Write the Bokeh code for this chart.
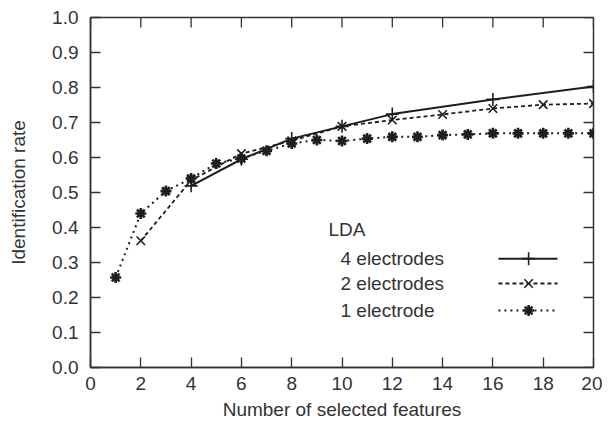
from bokeh.plotting import figure
from bokeh.models import FixedTicker, PrintfTickFormatter, Range1d
from bokeh.core.properties import value
from bokeh.embed import file_html
from bokeh.resources import INLINE

# ---- data ----
x4 = [4, 6, 8, 10, 12, 16, 20]
y4 = [0.519, 0.595, 0.654, 0.689, 0.724, 0.766, 0.803]
x2 = [2, 4, 6, 8, 10, 12, 14, 16, 18, 20]
y2 = [0.362, 0.535, 0.611, 0.648, 0.689, 0.707, 0.723, 0.740, 0.751, 0.754]
x1 = list(range(1, 21))
y1 = [0.257, 0.440, 0.504, 0.540, 0.583, 0.597, 0.619, 0.640, 0.650, 0.647,
      0.654, 0.659, 0.659, 0.664, 0.666, 0.669, 0.669, 0.669, 0.669, 0.669]
series_names = ["4 electrodes", "2 electrodes", "1 electrode"]
legend_title = "LDA"
x_ticks = list(range(0, 21, 2))
y_ticks = [i / 10 for i in range(0, 11)]

FONT = "Liberation Sans"
TXT = "#333333"
INK = "#1e1e1e"
FRAME = "#333333"
FS = "19px"

W, H = 602, 427
BL, BR, BT, BB = 90, 9, 17, 60
X0, X1, Y0, Y1 = 0, 20, 0, 1

p = figure(width=W, height=H, output_backend="svg", toolbar_location=None,
           x_range=Range1d(X0, X1), y_range=Range1d(Y0, Y1),
           min_border_left=BL, min_border_right=BR, min_border_top=BT, min_border_bottom=BB,
           x_axis_label="Number of selected features", y_axis_label="Identification rate")
p.xgrid.visible = False
p.ygrid.visible = False
p.outline_line_color = FRAME
p.outline_line_width = 1.5
p.background_fill_color = "white"
p.border_fill_color = "white"

def style_axis(ax, ticks):
    ax.ticker = FixedTicker(ticks=ticks)
    ax.major_tick_in = 10
    ax.major_tick_out = 0
    ax.minor_tick_line_color = None
    ax.major_tick_line_color = FRAME
    ax.major_tick_line_width = 1.3
    ax.axis_line_color = FRAME
    ax.axis_line_width = 1.5
    ax.major_label_text_font = FONT
    ax.major_label_text_color = TXT
    ax.major_label_text_font_size = FS
    ax.axis_label_text_font = FONT
    ax.axis_label_text_font_style = "normal"
    ax.axis_label_text_color = TXT
    ax.axis_label_text_font_size = FS

style_axis(p.xaxis[0], x_ticks)
style_axis(p.yaxis[0], y_ticks)
p.yaxis[0].formatter = PrintfTickFormatter(format="%.1f")
p.xaxis[0].major_label_standoff = 9
p.xaxis[0].axis_label_standoff = 6
p.yaxis[0].major_label_standoff = 12
p.yaxis[0].axis_label_standoff = 20

# mirrored inward ticks on the top and right edges (10 px long)
frame_w = W - BL - BR
frame_h = H - BT - BB
tx = 10 / frame_w * (X1 - X0)
ty = 10 / frame_h * (Y1 - Y0)
p.segment(x0=x_ticks, y0=[Y1] * len(x_ticks), x1=x_ticks, y1=[Y1 - ty] * len(x_ticks),
          line_color=FRAME, line_width=1.3)
p.segment(x0=[X1] * len(y_ticks), y0=y_ticks, x1=[X1 - tx] * len(y_ticks), y1=y_ticks,
          line_color=FRAME, line_width=1.3)

# ---- series ----
p.line(x4, y4, line_color=INK, line_width=2)
p.scatter(x4, y4, marker="cross", size=13, line_color=INK, line_width=1.6)
p.line(x2, y2, line_color=INK, line_width=1.8, line_dash="4 3")
p.scatter(x2, y2, marker="x", size=12, line_color=INK, line_width=1.6)
p.line(x1, y1, line_color=INK, line_width=2, line_dash="2 4")
p.scatter(x1, y1, marker="asterisk", size=11, line_color=INK, line_width=2.6)

# ---- legend (gnuplot style: text left, sample right) ----
leg_title_x, leg_title_y = 9.46, 0.394
leg_text_x = 9.94
leg_rows_y = [0.311, 0.240, 0.163]
leg_line_x0, leg_line_x1, leg_mark_x = 16.22, 18.57, 17.42

p.text(x=[leg_title_x], y=[leg_title_y], text=[legend_title], text_font=value(FONT),
       text_font_size=FS, text_color=TXT, text_baseline="middle", text_align="left")
p.text(x=[leg_text_x] * 3, y=leg_rows_y, text=series_names, text_font=value(FONT),
       text_font_size=FS, text_color=TXT, text_baseline="middle", text_align="left")

p.line([leg_line_x0, leg_line_x1], [leg_rows_y[0]] * 2, line_color=INK, line_width=2)
p.scatter([leg_mark_x], [leg_rows_y[0]], marker="cross", size=13, line_color=INK, line_width=1.6)
p.line([leg_line_x0, leg_line_x1], [leg_rows_y[1]] * 2, line_color=INK, line_width=1.8, line_dash="4 3")
p.scatter([leg_mark_x], [leg_rows_y[1]], marker="x", size=12, line_color=INK, line_width=1.6)
p.line([leg_line_x0, leg_line_x1], [leg_rows_y[2]] * 2, line_color=INK, line_width=2, line_dash="2 4")
p.scatter([leg_mark_x], [leg_rows_y[2]], marker="asterisk", size=11, line_color=INK, line_width=2.6)

open("out.html", "w").write(file_html(p, INLINE))
